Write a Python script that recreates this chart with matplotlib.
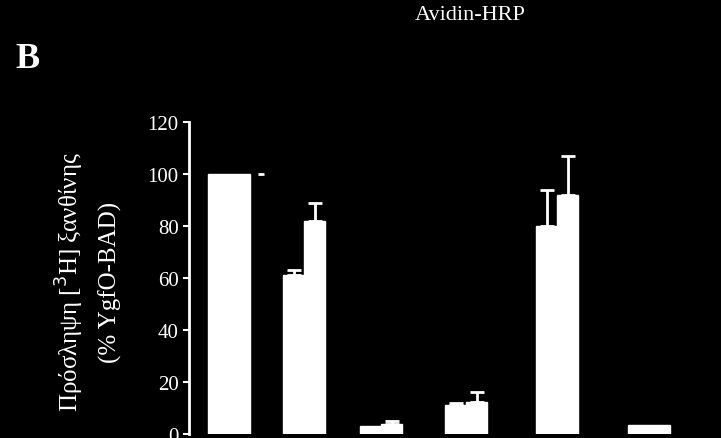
import numpy as np
import matplotlib.pyplot as plt

plt.rcParams['font.family'] = ['Liberation Serif', 'DejaVu Serif']

group_pos = [229, 304, 381, 466, 557, 649]
left_vals = [100, 61, 3, 11, 80, 3.5]
left_err = [0, 2, 0, 1, 14, 0]
right_vals = [100, 82, 4, 12.5, 92, 3.5]
right_err = [0, 7, 1, 3.5, 15, 0]

fig = plt.figure(figsize=(7.21, 4.39), dpi=100, facecolor='black')
ax = fig.add_axes([189/721, 4/439, 1 - 189/721, 312/439], facecolor='black')

w = 21
x = np.array(group_pos)
ax.bar(x - w/2, left_vals, width=w, color='white', edgecolor='white')
ax.bar(x + w/2, right_vals, width=w, color='white', edgecolor='white')
ekw = dict(fmt='none', ecolor='white', elinewidth=2, capsize=5, capthick=2)
for xs, vals, errs in [(x - w/2, left_vals, left_err), (x + w/2, right_vals, right_err)]:
    m = np.array(errs) > 0
    ax.errorbar(xs[m], np.array(vals)[m], yerr=[np.zeros(m.sum()), np.array(errs)[m]], **ekw)
ax.plot([261], [100], marker='_', color='white', ms=4, mew=2)

ax.set_xlim(189, 721)
ax.set_ylim(0, 120)
ax.set_yticks(range(0, 121, 20))
ax.set_xticks([])
for s in ['top', 'right', 'bottom']:
    ax.spines[s].set_visible(False)
ax.spines['left'].set_color('white')
ax.spines['left'].set_linewidth(2)
ax.tick_params(axis='y', colors='white', labelsize=15, width=1.5, length=4)

fig.text(470/721, 1 - 15/439, 'Avidin-HRP', color='white', fontsize=16, ha='center', va='center')
fig.text(28/721, 1 - 60/439, 'B', color='white', fontsize=26, fontweight='bold', ha='center', va='center')
fig.text(70/721, 1 - 282/439, 'Πρόσληψη [$^3$H] ξανθίνης', color='white', fontsize=18,
         rotation=90, ha='center', va='center')
fig.text(110/721, 1 - 282/439, '(% YgfO-BAD)', color='white', fontsize=18,
         rotation=90, ha='center', va='center')

fig.savefig('out.png', dpi=100, facecolor='black')
